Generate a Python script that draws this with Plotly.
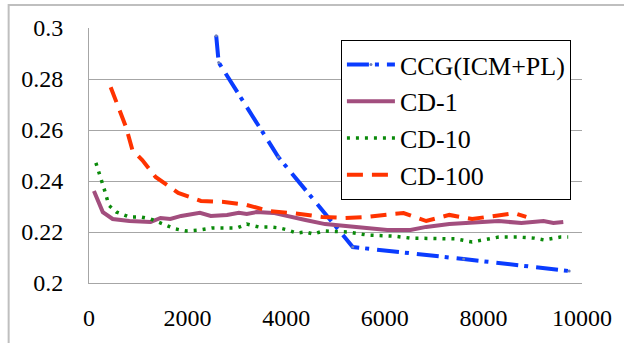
import plotly.graph_objects as go

# ---- data ----
ccg_x = [2580, 2630, 3840, 5350, 7600, 9740]
ccg_y = [0.2970, 0.2865, 0.2494, 0.2141, 0.2094, 0.2047]

cd1_x = [100, 280, 480, 820, 1250, 1450, 1650, 1870, 2250, 2470, 2800, 3040, 3200,
         3400, 3740, 4060, 4390, 4790, 5050, 5520, 6050, 6520, 6840, 7310, 7770,
         8310, 8770, 9220, 9420, 9620]
cd1_y = [0.2361, 0.2278, 0.2251, 0.2243, 0.2239, 0.2255, 0.2251, 0.2263, 0.2275,
         0.2263, 0.2267, 0.2275, 0.2271, 0.2278, 0.2275, 0.2263, 0.2247, 0.2231,
         0.2227, 0.2220, 0.2208, 0.2208, 0.2220, 0.2231, 0.2235, 0.2243, 0.2235,
         0.2243, 0.2235, 0.2239]

cd10_x = [140, 240, 340, 400, 560, 820, 1050, 1250, 1350, 1490, 1570, 1750, 1970,
          2250, 2500, 2740, 3000, 3200, 3440, 3660, 3860, 4030, 4210, 4390, 4550,
          4750, 5250, 5650, 6180, 6520, 7040, 7440, 7770, 7970, 8310, 8710, 9030,
          9220, 9560, 9720]
cd10_y = [0.2471, 0.2412, 0.2349, 0.2305, 0.2278, 0.2259, 0.2259, 0.2251, 0.2243,
          0.2231, 0.2224, 0.2212, 0.2204, 0.2208, 0.2216, 0.2216, 0.2216, 0.2231,
          0.2220, 0.2220, 0.2216, 0.2208, 0.2196, 0.2200, 0.2192, 0.2204, 0.2200,
          0.2188, 0.2184, 0.2176, 0.2173, 0.2173, 0.2161, 0.2169, 0.2180, 0.2180,
          0.2176, 0.2169, 0.2180, 0.2180]

cd100_x = [440, 750, 880, 1080, 1350, 1810, 2270, 2740, 3200, 3660, 4130, 4730,
           5190, 5650, 6180, 6380, 6840, 7310, 7770, 8310, 8630, 8870]
cd100_y = [0.2768, 0.2612, 0.2522, 0.2482, 0.2416, 0.2353, 0.2322, 0.2318, 0.2306,
           0.2282, 0.2274, 0.2259, 0.2255, 0.2259, 0.2271, 0.2274, 0.2243, 0.2267,
           0.2251, 0.2267, 0.2274, 0.2259]

x_ticks = [0, 2000, 4000, 6000, 8000, 10000]
x_labels = ["0", "2000", "4000", "6000", "8000", "10000"]
y_ticks = [0.2, 0.22, 0.24, 0.26, 0.28, 0.3]
y_labels = ["0.2", "0.22", "0.24", "0.26", "0.28", "0.3"]

FONT = "Liberation Serif"

fig = go.Figure()
fig.add_trace(go.Scatter(x=ccg_x, y=ccg_y, name="CCG(ICM+PL)", mode="lines+markers",
                         line=dict(color="#0A3CFF", width=4, dash="22px,6px,4px,8px"),
                         marker=dict(size=3, color="#7080B8")))
fig.add_trace(go.Scatter(x=cd1_x, y=cd1_y, name="CD-1", mode="lines",
                         line=dict(color="#A24E7E", width=4)))
fig.add_trace(go.Scatter(x=cd10_x, y=cd10_y, name="CD-10", mode="lines",
                         line=dict(color="#0A8A0A", width=3.5, dash="3px,6px")))
fig.add_trace(go.Scatter(x=cd100_x, y=cd100_y, name="CD-100", mode="lines",
                         line=dict(color="#FF3300", width=4, dash="16px,9px")))

fig.update_layout(
    width=624, height=343,
    margin=dict(l=89, r=32, t=28, b=60),
    paper_bgcolor="white", plot_bgcolor="white",
    font=dict(family=FONT, size=24, color="black"),
    showlegend=True,
    legend=dict(x=0.511, y=0.953, xanchor="left", yanchor="top",
                bgcolor="white", bordercolor="black", borderwidth=1,
                itemwidth=48, entrywidth=175,
                font=dict(family=FONT, size=26, color="black")),
    xaxis=dict(range=[0, 10000], tickvals=x_ticks, ticktext=x_labels,
               showgrid=False, zeroline=False, showline=True, linecolor="#A6A6A6",
               linewidth=1, ticks="", ticklabelstandoff=13,
               tickfont=dict(family=FONT, size=24, color="black")),
    yaxis=dict(range=[0.2, 0.3], tickvals=y_ticks, ticktext=y_labels,
               showgrid=True, gridcolor="#A6A6A6", gridwidth=1, zeroline=False,
               showline=True, linecolor="#A6A6A6", linewidth=1, ticks="",
               ticklabelstandoff=20,
               tickfont=dict(family=FONT, size=24, color="black")),
    shapes=[dict(type="rect", xref="paper", yref="paper",
                 x0=-0.163, x1=1.5, y0=-0.5, y1=1.09,
                 line=dict(color="#BFBFBF", width=2), layer="below")],
)

fig.write_html("out.html", config={"displayModeBar": False},
               post_script="document.body.style.margin='0';")
